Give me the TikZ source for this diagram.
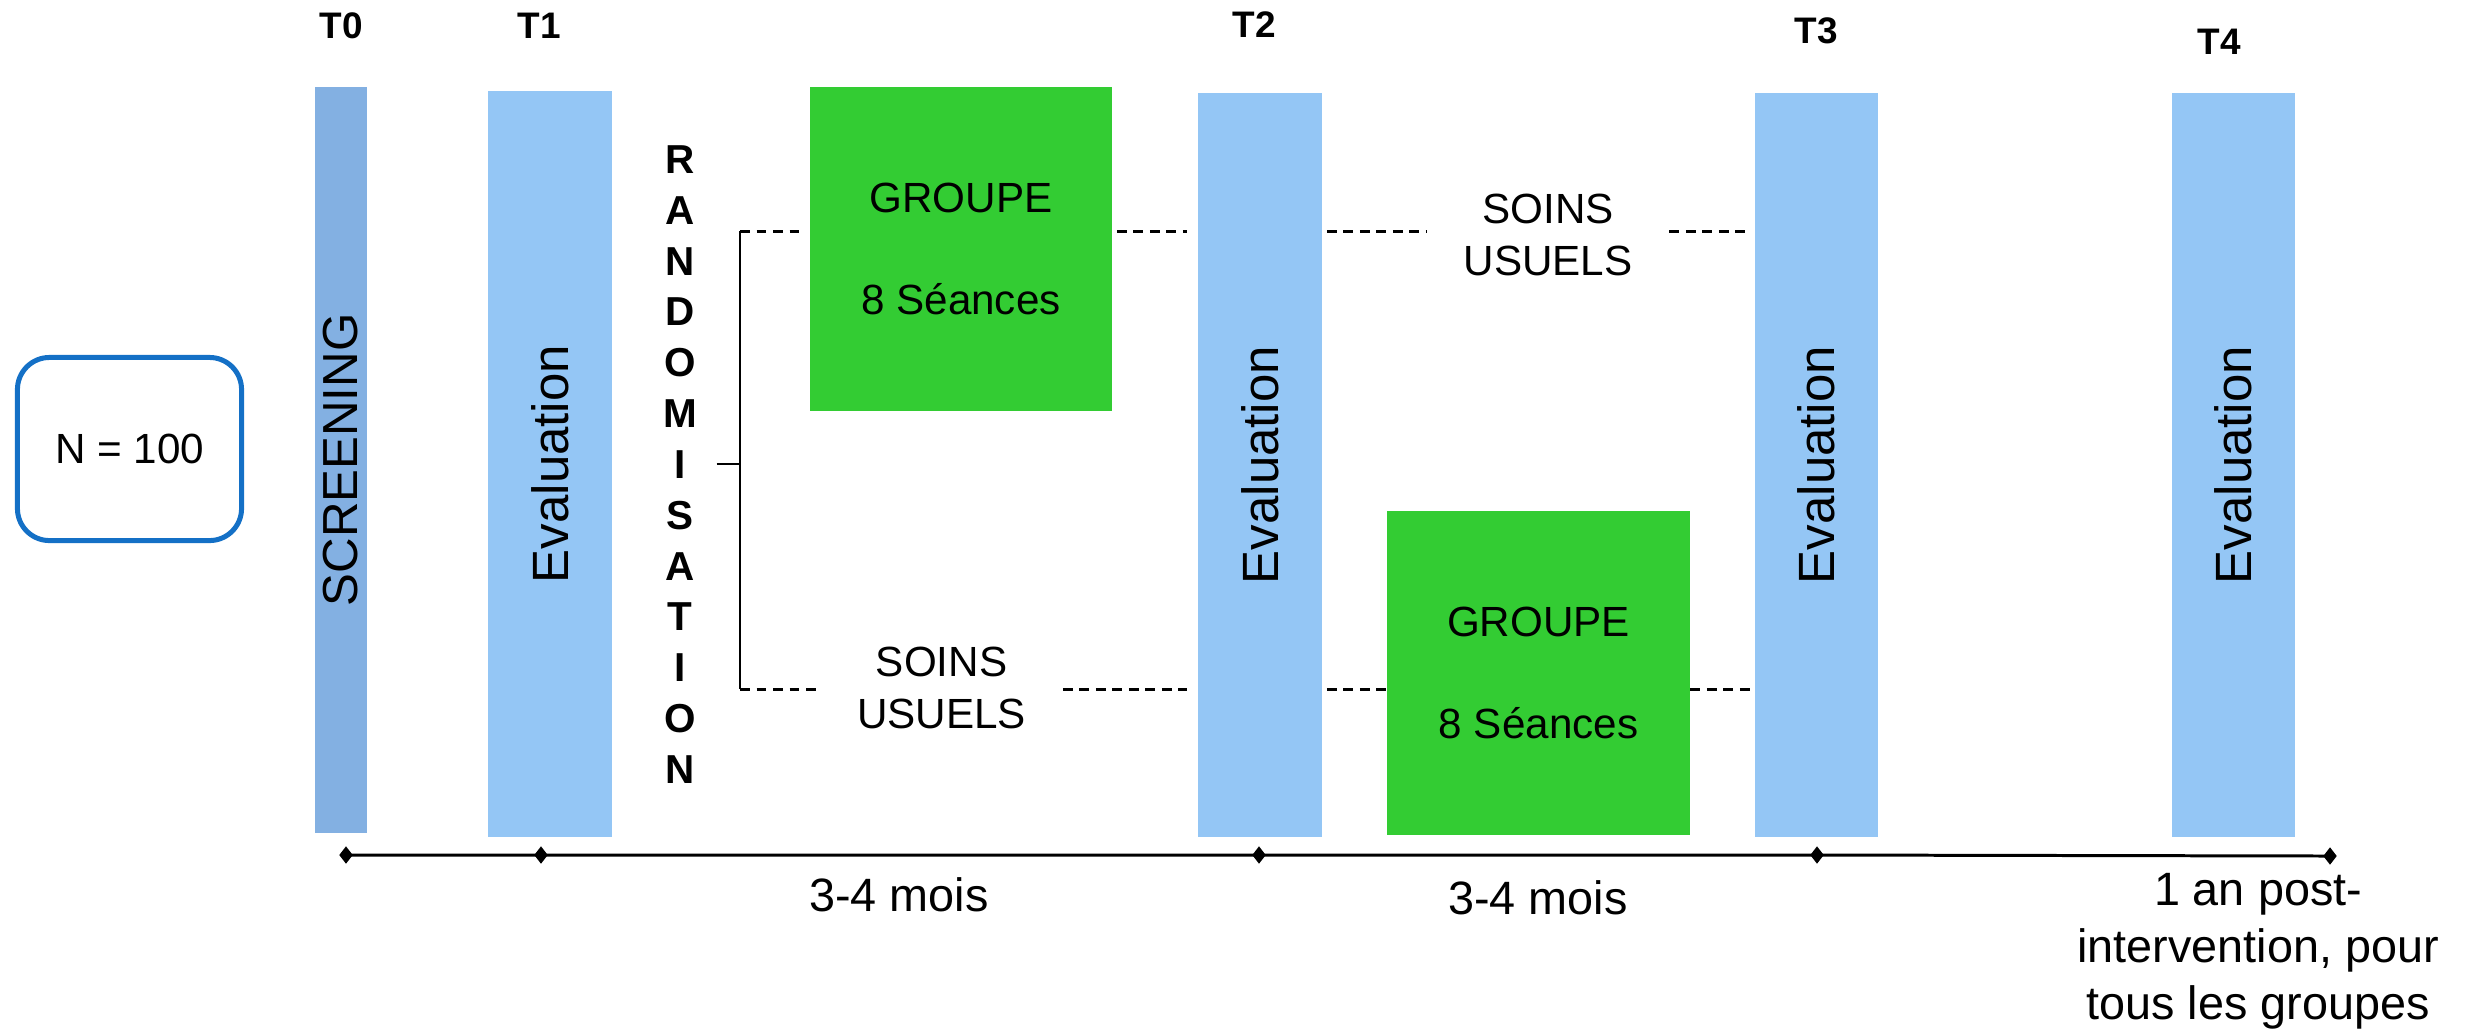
\documentclass[tikz,border=0pt]{standalone}
\usepackage{fontspec}
\setmainfont{Liberation Sans}
\usepackage{graphicx}
\usetikzlibrary{shapes.geometric}
\definecolor{scrblue}{RGB}{131,176,226}
\definecolor{evalblue}{RGB}{148,198,245}
\definecolor{grp}{RGB}{51,204,51}
\definecolor{nblue}{RGB}{20,112,198}
\begin{document}
\begin{tikzpicture}[x=0.01cm,y=-0.01cm,
  bar/.style={rectangle, fill=evalblue, inner sep=0, minimum width=1.24cm, minimum height=7.44cm, font=\fontsize{14.5}{17}\selectfont},
  grpbox/.style={rectangle, fill=grp, inner sep=0, minimum width=3.02cm, minimum height=3.24cm, align=center, font=\fontsize{12}{14.3}\selectfont},
  soins/.style={align=center, inner sep=0, minimum width=2.41cm, font=\fontsize{12}{14.6}\selectfont},
  tlab/.style={font=\bfseries\fontsize{10.5}{12}\selectfont, inner sep=0},
  axlab/.style={font=\fontsize{13.3}{16.2}\selectfont, inner sep=0, align=center},
  dmd/.style={diamond, fill=black, inner sep=0, minimum width=0.14cm, minimum height=0.18cm},
  dsh/.style={line width=0.85pt, dash pattern=on 2.8pt off 1.9pt},
  axis/.style={line width=0.85pt}
]
\useasboundingbox (0,0) rectangle (2470,1029);

% N box
\node[draw=nblue, line width=0.05cm, rounded corners=0.32cm, minimum width=2.24cm, minimum height=1.83cm, font=\fontsize{12}{14}\selectfont] (n) at (129.5,449) {N = 100};

% bars
\node[bar, fill=scrblue, minimum width=0.52cm, minimum height=7.46cm, font=\fontsize{14}{17}\selectfont] (scr) at (341,460) {\rotatebox{90}{SCREENING}};
\node[bar, minimum height=7.46cm] (e1) at (550,464) {\rotatebox{90}{Evaluation}};
\node[bar] (e2) at (1260,465) {\rotatebox{90}{Evaluation}};
\node[bar, minimum width=1.23cm] (e3) at (1816.5,465) {\rotatebox{90}{Evaluation}};
\node[bar, minimum width=1.23cm] (e4) at (2233.5,465) {\rotatebox{90}{Evaluation}};

% time labels
\node[tlab] (t0) at (341,26) {T0};
\node[tlab] (t1) at (539,26) {T1};
\node[tlab] (t2) at (1254,25) {T2};
\node[tlab] (t3) at (1816,31) {T3};
\node[tlab] (t4) at (2219,42) {T4};

% randomisation
\node[font=\bfseries\fontsize{11.5}{14.46}\selectfont, align=center, inner sep=0] (rand) at (680,464.5)
  {R\\A\\N\\D\\O\\M\\I\\S\\A\\T\\I\\O\\N};

% groups
\node[grpbox] (g1) at (961,249) {GROUPE\\[14.6pt]8 Séances};
\node[grpbox] (g2) at (1538.5,673) {GROUPE\\[14.6pt]8 Séances};

% usual care labels
\node[soins] (sT) at (1548,235) {SOINS\\USUELS};
\node[soins] (sB) at (941.5,688) {SOINS\\USUELS};

% bracket
\coordinate (brT) at (740,231);
\coordinate (brM) at (740,464);
\coordinate (brB) at (740,689);
\draw[line width=0.6pt, shorten <=0.19cm] (rand.east |- brM) -- (brM);
\draw[line width=0.6pt] (brT) -- (brB);

% top row dashes
\draw[dsh, shorten >=0.07cm] (brT) -- (g1.west |- brT);
\draw[dsh, shorten <=0.04cm, shorten >=0.10cm] (g1.east |- brT) -- (e2.west |- brT);
\draw[dsh, shorten <=0.04cm] (e2.east |- brT) -- (sT.west |- brT);
\draw[dsh, shorten >=0.06cm] (sT.east |- brT) -- (e3.west |- brT);

% bottom row dashes
\draw[dsh] (brB) -- (sB.west |- brB);
\draw[dsh, shorten >=0.10cm] (sB.east |- brB) -- (e2.west |- brB);
\draw[dsh, shorten <=0.04cm] (e2.east |- brB) -- (g2.west |- brB);
\draw[dsh, shorten >=0.04cm] (g2.east |- brB) -- (e3.west |- brB);

% time axis
\node[dmd] (d0) at (346,855) {};
\node[dmd] (d1) at (541,855) {};
\node[dmd] (d2) at (1259,855) {};
\node[dmd] (d3) at (1817,855) {};
\node[dmd] (d4) at (2330,856) {};
\draw[axis] (d0.center) -- (d1.center) -- (d2.center) -- (d3.center) -- (d4.center);

\node[axlab] (m1) at (899,895) {3-4 mois};
\node[axlab] (m2) at (1538,898) {3-4 mois};
\node[axlab] (post) at (2258,951) {1 an post-\\intervention, pour\\tous les groupes};
\end{tikzpicture}
\end{document}
